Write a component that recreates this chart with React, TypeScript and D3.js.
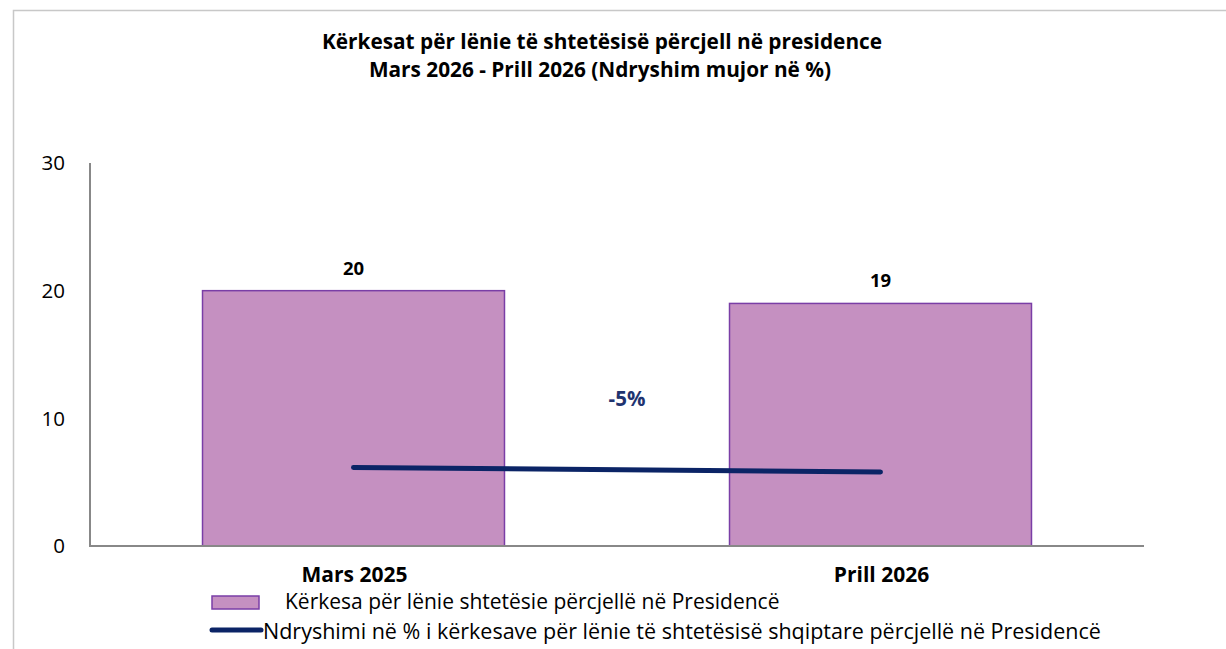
import React from "react";
import * as d3 from "d3";

const title1 = "Kërkesat për lënie të shtetësisë përcjell në presidence";
const title2 = "Mars 2026 - Prill 2026 (Ndryshim mujor në %)";
const categories = ["Mars 2025", "Prill 2026"];
const barValues = [20, 19];
const lineValues = [6.15, 5.8];
const changeLabel = "-5%";
const yTicks = [0, 10, 20, 30];
const legendBar = "Kërkesa për lënie shtetësie përcjellë në Presidencë";
const legendLine = "Ndryshimi në % i kërkesave për lënie të shtetësisë shqiptare përcjellë në Presidencë";

const W = 1226;
const H = 649;
const FONT = "'Open Sans', sans-serif";
const BAR_FILL = "#c590c1";
const BAR_STROKE = "#7a3ea6";
const LINE_COLOR = "#0b2466";

export default function App() {
  const x = d3
    .scaleBand<string>()
    .domain(categories)
    .range([90, 1144])
    .paddingInner(0.427)
    .paddingOuter(0.2135);
  const y = d3.scaleLinear().domain([0, 30]).range([546, 163]);
  const cx = (c: string) => (x(c) as number) + x.bandwidth() / 2;

  const line = d3
    .line<number>()
    .x((_, i) => cx(categories[i]))
    .y((d) => y(d));

  return (
    <svg
      width={W}
      height={H}
      style={{ position: "absolute", left: 0, top: 0, background: "#fff" }}
      fontFamily={FONT}
    >
      <rect x={0} y={0} width={W} height={H} fill="#fff" />
      {/* chart frame */}
      <path d={`M13.5,${H} V10.5 H${W}`} fill="none" stroke="#c8c8c8" strokeWidth={1.5} />

      {/* title */}
      <text x={602} y={49} textAnchor="middle" fontSize={20.8} fontWeight="bold" fill="#000">
        {title1}
      </text>
      <text x={600} y={77} textAnchor="middle" fontSize={20.8} fontWeight="bold" fill="#000">
        {title2}
      </text>

      {/* bars */}
      {categories.map((c, i) => (
        <rect
          key={c}
          x={x(c)}
          y={y(barValues[i])}
          width={x.bandwidth()}
          height={y(0) - y(barValues[i])}
          fill={BAR_FILL}
          stroke={BAR_STROKE}
          strokeWidth={1.5}
        />
      ))}

      {/* axes */}
      <line x1={90} x2={90} y1={y(30)} y2={y(0)} stroke="#888" strokeWidth={2} />
      <line x1={89} x2={1144} y1={y(0)} y2={y(0)} stroke="#888" strokeWidth={2} />

      {yTicks.map((t) => (
        <text key={t} x={65} y={y(t)} dy="0.35em" textAnchor="end" fontSize={20.5} fill="#000">
          {t}
        </text>
      ))}

      {/* bar labels */}
      {categories.map((c, i) => (
        <text
          key={c}
          x={cx(c)}
          y={y(barValues[i]) - 16}
          textAnchor="middle"
          fontSize={18.5}
          fontWeight="bold"
          fill="#000"
        >
          {barValues[i]}
        </text>
      ))}

      {/* line */}
      <path d={line(lineValues) || ""} fill="none" stroke={LINE_COLOR} strokeWidth={5} strokeLinecap="round" />
      <text x={627} y={406} textAnchor="middle" fontSize={20.5} fontWeight="bold" fill="#1f3470">
        {changeLabel}
      </text>

      {/* category labels */}
      {categories.map((c) => (
        <text key={c} x={cx(c) + 1} y={582} textAnchor="middle" fontSize={21} fontWeight="bold" fill="#000">
          {c}
        </text>
      ))}

      {/* legend */}
      <rect x={212} y={596} width={47} height={13} fill={BAR_FILL} stroke={BAR_STROKE} strokeWidth={1.5} />
      <text x={285} y={609} fontSize={21} fill="#000">
        {legendBar}
      </text>
      <line x1={212} x2={261} y1={630} y2={630} stroke={LINE_COLOR} strokeWidth={5} strokeLinecap="round" />
      <text x={263} y={639} fontSize={21.5} fill="#000">
        {legendLine}
      </text>
    </svg>
  );
}
